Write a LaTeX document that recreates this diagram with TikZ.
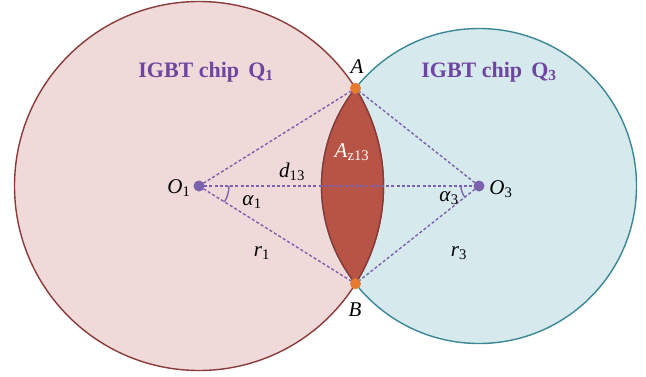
\documentclass[tikz,border=0pt]{standalone}
\usepackage{fontspec}
\setmainfont{Liberation Serif}
\definecolor{chipApink}{HTML}{EFD9D9}
\definecolor{chipAedge}{HTML}{8A3A38}
\definecolor{chipBblue}{HTML}{D6E9EC}
\definecolor{chipBedge}{HTML}{3B8796}
\definecolor{lensred}{HTML}{B85445}
\definecolor{linkpurple}{HTML}{7B62AC}
\definecolor{titlepurple}{HTML}{6E45A0}
\definecolor{ptorange}{HTML}{E67A2E}

\begin{document}
\begin{tikzpicture}[x=1pt, y=1pt, line join=round,
    link/.style={draw=linkpurple, line width=1.4pt, dash pattern=on 3pt off 2.2pt},
    title/.style={font=\fontsize{22}{22}\selectfont\bfseries, text=titlepurple},
    lbl/.style={font=\fontsize{21}{21}\selectfont, inner sep=0pt}]
    \useasboundingbox (0,0) rectangle (646,376);

    % 两个芯片的热扩散圆
    \coordinate (O1) at (199,190);
    \coordinate (O3) at (479,190);
    \coordinate (A) at (355.5,287.7);
    \coordinate (B) at (355.5,92.3);
    \fill[chipApink] (O1) circle (184.5);
    \fill[chipBblue] (O3) circle (157.5);
    \draw[chipAedge, line width=1.4pt] (O1) circle (184.5);
    \draw[chipBedge, line width=1.4pt] (O3) circle (157.5);

    % 重叠区域 A_z13
    \fill[lensred] (A) arc[start angle=31.97, end angle=-31.97, radius=184.5]
        arc[start angle=218.35, end angle=141.65, radius=157.5] -- cycle;
    \draw[chipAedge, line width=1.4pt] (A) arc[start angle=31.97, end angle=-31.97, radius=184.5]
        arc[start angle=218.35, end angle=141.65, radius=157.5] -- cycle;

    % 虚线连线
    \draw[link] (O1) -- (A);
    \draw[link] (O1) -- (B);
    \draw[link] (O1) -- (O3);
    \draw[link] (O3) -- (A);
    \draw[link] (O3) -- (B);

    % 角度 alpha
    \draw[linkpurple, line width=1.4pt] ([shift={(0:30)}]O1) arc[start angle=0, end angle=-31.97, radius=30];
    \draw[linkpurple, line width=1.4pt] ([shift={(180:18)}]O3) arc[start angle=180, end angle=218.35, radius=18];

    % 圆心和交点
    \foreach \p in {O1, O3} \fill[linkpurple] (\p) circle (5.5);
    \foreach \p in {A, B} \fill[ptorange] (\p) circle (5.5);

    % 文字
    \node[title] (q1) at (206,304) {IGBT chip\, Q\textsubscript{1}};
    \node[title] (q3) at (489,304) {IGBT chip\, Q\textsubscript{3}};
    \node[lbl] (alab) at (357,309) {\textit{A}};
    \node[lbl] (blab) at (355,66) {\textit{B}};
    \node[lbl] (o1lab) at (179,188) {\textit{O}\textsubscript{1}};
    \node[lbl] (o3lab) at (501,187) {\textit{O}\textsubscript{3}};
    \node[lbl] (dlab) at (292,204) {\textit{d}\textsubscript{13}};
    \node[lbl] (a1lab) at (252,174) {\textit{α}\textsubscript{1}};
    \node[lbl] (a3lab) at (449,178) {\textit{α}\textsubscript{3}};
    \node[lbl] (r1lab) at (262,123) {\textit{r}\textsubscript{1}};
    \node[lbl] (r3lab) at (459,123) {\textit{r}\textsubscript{3}};
    \node[lbl, text=white] (azlab) at (352,224) {\textit{A}\textsubscript{z13}};
\end{tikzpicture}
\end{document}
